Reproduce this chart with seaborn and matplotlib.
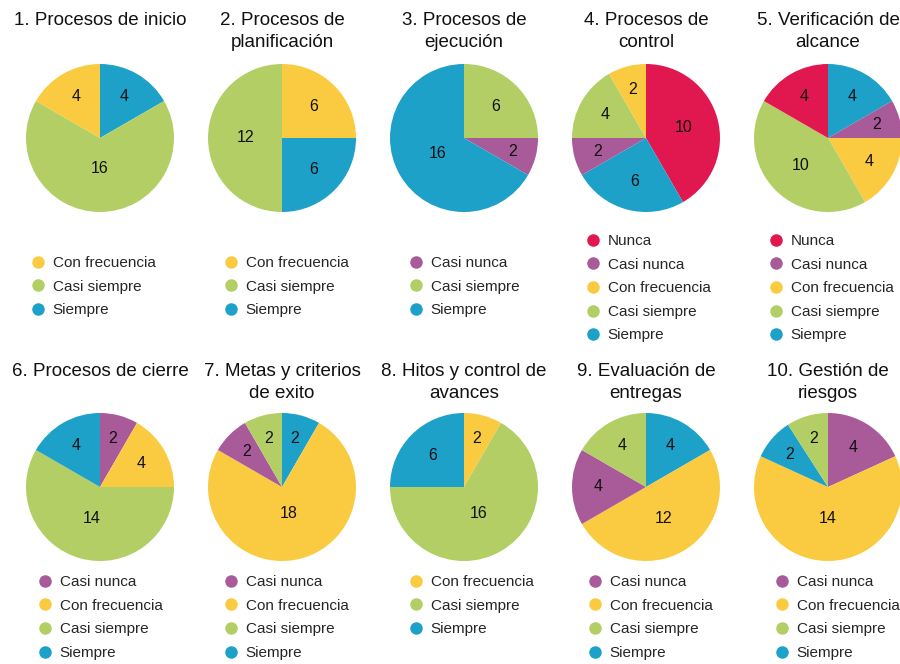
import matplotlib
matplotlib.use("Agg")
import numpy as np
import matplotlib.pyplot as plt
from matplotlib.lines import Line2D
import seaborn as sns

# Response categories and their colours
categories = ["Nunca", "Casi nunca", "Con frecuencia", "Casi siempre", "Siempre"]
category_colors = ["#E0184F", "#A85A99", "#FACB40", "#B3CE65", "#1DA1C8"]

# Chart titles
titles = [
    "1. Procesos de inicio",
    "2. Procesos de\nplanificación",
    "3. Procesos de\nejecución",
    "4. Procesos de\ncontrol",
    "5. Verificación de\nalcance",
    "6. Procesos de cierre",
    "7. Metas y criterios\nde exito",
    "8. Hitos y control de\navances",
    "9. Evaluación de\nentregas",
    "10. Gestión de\nriesgos",
]

# Slices of each pie, clockwise from 12 o'clock
inicio_cats = ["Siempre", "Casi siempre", "Con frecuencia"]
inicio_vals = [4, 16, 4]
planificacion_cats = ["Con frecuencia", "Siempre", "Casi siempre"]
planificacion_vals = [6, 6, 12]
ejecucion_cats = ["Casi siempre", "Casi nunca", "Siempre"]
ejecucion_vals = [6, 2, 16]
control_cats = ["Nunca", "Siempre", "Casi nunca", "Casi siempre", "Con frecuencia"]
control_vals = [10, 6, 2, 4, 2]
alcance_cats = ["Siempre", "Casi nunca", "Con frecuencia", "Casi siempre", "Nunca"]
alcance_vals = [4, 2, 4, 10, 4]
cierre_cats = ["Casi nunca", "Con frecuencia", "Casi siempre", "Siempre"]
cierre_vals = [2, 4, 14, 4]
metas_cats = ["Siempre", "Con frecuencia", "Casi nunca", "Casi siempre"]
metas_vals = [2, 18, 2, 2]
hitos_cats = ["Con frecuencia", "Casi siempre", "Siempre"]
hitos_vals = [2, 16, 6]
entregas_cats = ["Siempre", "Con frecuencia", "Casi nunca", "Casi siempre"]
entregas_vals = [4, 12, 4, 4]
riesgos_cats = ["Casi nunca", "Con frecuencia", "Siempre", "Casi siempre"]
riesgos_vals = [4, 14, 2, 2]

slice_cats = [inicio_cats, planificacion_cats, ejecucion_cats, control_cats, alcance_cats,
              cierre_cats, metas_cats, hitos_cats, entregas_cats, riesgos_cats]
slice_vals = [inicio_vals, planificacion_vals, ejecucion_vals, control_vals, alcance_vals,
              cierre_vals, metas_vals, hitos_vals, entregas_vals, riesgos_vals]

sns.set_theme(style="white")
palette = dict(zip(categories, sns.color_palette(category_colors)))
plt.rcParams["font.family"] = ["Liberation Sans", "DejaVu Sans"]

W, H = 900, 664
fig = plt.figure(figsize=(W / 100, H / 100), dpi=100)
fig.patch.set_facecolor("white")

R = 74  # pie radius in pixels
col_x = [100, 282, 464, 646, 828]
row_y = [138, 487]
title_top = [12, 363]
legend_marker_x = [[38, 231, 416, 593, 776], [45, 231, 416, 595, 782]]
legend_first_y = {3: 263, 5: 241}
legend_row2_first_y = 582
fs = 11
fs_px = fs * 100 / 72

for i in range(10):
    row, col = divmod(i, 5)
    cx, cy = col_x[col], row_y[row]
    ax = fig.add_axes([(cx - R) / W, 1 - (cy + R) / H, 2 * R / W, 2 * R / H])
    cats = slice_cats[i]
    vals = slice_vals[i]
    wedges, _ = ax.pie(vals, colors=[palette[c] for c in cats], startangle=90,
                       counterclock=False, wedgeprops=dict(linewidth=0))
    # value labels sit closer to the centre for wider slices
    for w, v in zip(wedges, vals):
        span = w.theta2 - w.theta1
        mid = np.deg2rad((w.theta1 + w.theta2) / 2)
        r_lab = 0.72 - 0.0013 * span
        ax.text(r_lab * np.cos(mid), r_lab * np.sin(mid), str(v),
                ha="center", va="center", fontsize=11.5, color="#111111")
    ax.set_xlim(-1, 1)
    ax.set_ylim(-1, 1)
    ax.set_aspect("equal")
    ax.axis("off")

    fig.text(cx / W, 1 - title_top[row] / H, titles[i], ha="center", va="top",
             fontsize=13.5, linespacing=1.38, color="#111111")

    present = [c for c in categories if c in cats]
    handles = [Line2D([], [], marker="o", linestyle="none", markersize=9,
                      markerfacecolor=palette[c], markeredgewidth=0) for c in present]
    first_y = legend_first_y[len(present)] if row == 0 else legend_row2_first_y
    top = first_y - 7
    left = legend_marker_x[row][col] - 0.5 * fs_px
    fig.legend(handles, present, loc="upper left",
               bbox_to_anchor=(left / W, 1 - top / H), frameon=False,
               borderpad=0, borderaxespad=0, handlelength=1.0, handletextpad=0.45,
               labelspacing=0.63, prop=dict(size=fs))

fig.savefig("out.png", dpi=100, facecolor="white")
